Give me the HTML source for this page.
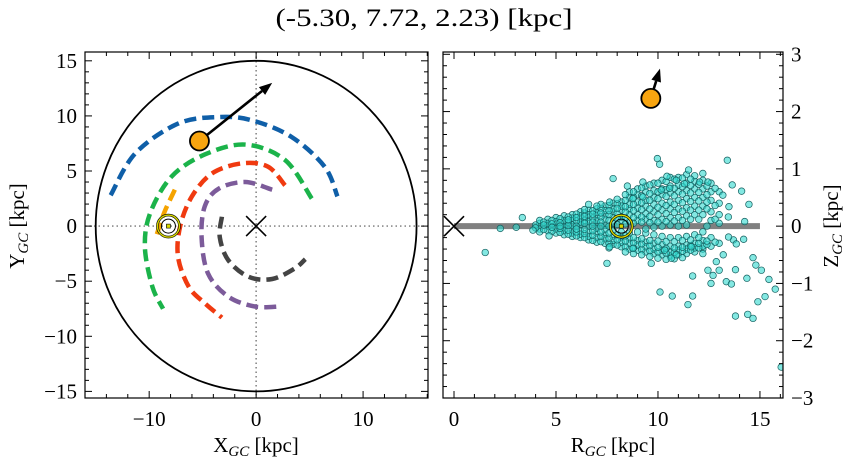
<!DOCTYPE html>
<html><head><meta charset="utf-8">
<style>
body{margin:0;background:#fff;}
svg{display:block;font-family:"Liberation Serif","DejaVu Serif",serif;}
</style></head>
<body>
<svg id="fig" width="854" height="464" viewBox="0 0 854 464" xmlns="http://www.w3.org/2000/svg">
<text x="424" y="26" font-size="25" text-anchor="middle" textLength="297" lengthAdjust="spacingAndGlyphs">(-5.30, 7.72, 2.23) [kpc]</text>
<g id="left"></g>
<g id="right"></g>
</svg>
<script>
// ---- data ----
const blueArc=[[-13.6,2.8],[-11.3,6.6],[-7.3,9.3],[-3.5,9.9],[-0.4,9.6],[3.3,8.1],[6.4,5.4],[7.6,2.7]];
const greenArc=[[5.2,2.5],[2.7,6.0],[-1.0,7.4],[-4.8,6.5],[-7.9,4.5],[-9.9,1.2],[-10.4,-1.9],[-9.7,-5.5],[-8.7,-7.5]];
const redArc=[[2.7,3.7],[1.1,5.4],[-1.3,5.7],[-4.1,4.8],[-6.0,2.7],[-7.1,0],[-7.3,-2.8],[-6.3,-5.5],[-4.8,-7.0],[-3.2,-8.3]];
const purpleArc=[[1.5,3.3],[-1.0,4.0],[-3.5,3.4],[-4.8,1.8],[-5.1,-1.0],[-4.5,-4.3],[-2.6,-6.4],[-0.1,-7.3],[2.2,-7.3]];
const greyArc=[[-3.2,0.85],[-3.4,-1.0],[-2.6,-3.1],[-0.7,-4.6],[1.5,-4.8],[3.6,-3.85],[4.6,-3.0]];
const orangeArc=[[-7.6,3.3],[-8.6,1.2],[-9.4,-1.1]];
const starXY=[-5.30,7.72];
const arrowXY=[1.5,13.0];
const sunXY=[-8.2,0];
const starRZ=[9.65,2.23];
const arrowRZ=[10.1,2.75];
const xTicksL=[-10,0,10], yTicksL=[-15,-10,-5,0,5,10,15];
const xTicksR=[0,5,10,15], yTicksR=[-3,-2,-1,0,1,2,3];
const outliers=[[1.53,-0.46],[2.27,-0.04],[3.05,-0.02],[3.35,0.15],[3.87,-0.07],[4.66,-0.17],[7.5,-0.65],[7.8,0.83],[8.5,0.7],[9.26,0.77],[9.67,-0.65],[9.97,1.18],[10.08,1.08],[10.1,-1.15],[10.7,-1.22],[11.47,-1.37],[11.7,-1.22],[11.7,-0.87],[11.5,0.98],[12.2,0.92],[13.4,1.15],[13.64,0.72],[14.1,0.61],[14.46,0.38],[14.25,0.08],[14.2,-0.23],[14.66,-0.55],[14.8,-0.68],[15.07,-0.77],[15.44,-0.93],[15.75,-1.1],[15.25,-1.23],[14.9,-1.32],[14.66,-1.61],[14.4,-1.54],[13.8,-1.57],[13.8,-0.76],[13.35,-0.97],[13.6,-1.01],[12.6,-1.0],[12.45,-0.77],[12.7,-0.86],[13.0,-0.77],[12.86,-0.62],[14.36,-0.91],[16.04,-2.46],[13.7,-0.24],[13.84,-0.31],[13.46,-0.19],[13.2,-0.5],[12.2,-0.48],[10.9,-0.5],[10.65,-0.56],[10.33,-0.42],[11.63,-0.36],[8.77,-0.39],[7.63,-0.36],[6.6,0.38],[7.0,0.35],[7.63,0.42],[8.77,0.48],[9.26,0.51],[10.16,0.63],[10.44,0.87],[10.9,0.8],[11.3,0.74],[12.04,0.77],[12.45,0.77],[10.57,0.66],[13.18,0.54],[13.48,0.34],[13.45,0.16]];
const coreR=[4.2,4.6,5.0,5.4,5.8,6.2,6.6,7.0,7.4,7.8,8.2,8.6,9.0,9.4,9.8,10.2,10.6,11.0,11.4,11.8,12.2,12.6,13.0];
const coreZ=[
[0.05,-0.05,0.1,-0.1],
[0.12,0,-0.08,0.05],
[0.15,-0.12,0.02,0.08,-0.05],
[0.18,-0.15,0.05,-0.02,0.1,-0.08],
[0.2,-0.18,0.1,-0.05,0.02,0.14,-0.12],
[0.25,-0.2,0.12,-0.08,0.03,0.18,-0.14,0.07],
[0.28,-0.24,0.15,-0.1,0,0.2,-0.18,0.08],
[0.3,-0.28,0.18,-0.12,0.04,0.24,-0.2,0.1,-0.04],
[0.35,-0.3,0.2,-0.15,0.02,0.27,-0.22,0.12,-0.06],
[0.4,-0.32,0.25,-0.18,0.05,0.3,-0.25,0.15,-0.08],
[0.42,-0.36,0.28,-0.2,0.1,0.35,-0.28,0.16,-0.1],
[0.5,-0.4,0.3,-0.22,0.08,0.38,-0.3,0.2,-0.12,0.6],
[0.55,-0.42,0.32,-0.25,0.1,0.42,-0.33,0.2,-0.1,0.65],
[0.6,-0.45,0.35,-0.28,0.12,0.45,-0.36,0.22,-0.12,0.7,-0.05],
[0.62,-0.48,0.38,-0.3,0.1,0.5,-0.4,0.25,-0.15,0.75,-0.02],
[0.65,-0.5,0.4,-0.32,0.12,0.55,-0.42,0.28,-0.18,0.8,0],
[0.7,-0.52,0.42,-0.35,0.15,0.58,-0.45,0.3,-0.2,0.85,0.02],
[0.72,-0.5,0.45,-0.35,0.15,0.6,-0.42,0.3,-0.2,0.85,0],
[0.75,-0.48,0.48,-0.33,0.18,0.62,-0.4,0.32,-0.18,0.9,0.02],
[0.78,-0.45,0.5,-0.3,0.2,0.65,-0.38,0.35,-0.15,0.88],
[0.8,-0.4,0.5,-0.25,0.2,0.65,-0.35,0.35,-0.1],
[0.75,-0.35,0.45,-0.2,0.25,0.6,0.1],
[0.6,-0.3,0.4,0.2,0.05]];
const core2R=[4.0,4.4,4.8,5.2,5.6,6.0,6.4,6.8,7.2,7.6,8.0,8.4,8.8,9.2,9.6,10.0,10.4,10.8,11.2,11.6,12.0,12.4,12.8];
const core2Z=[
[0.02,-0.03],
[0.07,-0.06,0.02],
[0.1,-0.09,0.04,-0.02],
[0.13,-0.11,0.06,-0.04,0.0],
[0.16,-0.14,0.07,-0.07,0.01,0.11],
[0.21,-0.17,0.09,-0.1,0.0,0.15,-0.05],
[0.23,-0.2,0.1,-0.13,0.05,0.17,-0.06,0.29],
[0.27,-0.25,0.14,-0.16,0.07,0.21,-0.08,0.0],
[0.31,-0.27,0.16,-0.18,0.07,0.23,-0.1,0.0,0.38],
[0.36,-0.3,0.2,-0.21,0.1,0.27,-0.12,0.0,-0.38],
[0.39,-0.33,0.22,-0.24,0.13,0.31,-0.15,0.03,0.47],
[0.45,-0.36,0.25,-0.26,0.14,0.34,-0.17,0.04,0.55,-0.45],
[0.5,-0.38,0.27,-0.29,0.15,0.38,-0.2,0.05,0.6,-0.48],
[0.53,-0.41,0.29,-0.31,0.16,0.41,-0.22,0.07,0.67,-0.5],
[0.57,-0.43,0.3,-0.34,0.17,0.45,-0.25,0.06,0.72,-0.53],
[0.6,-0.45,0.33,-0.37,0.2,0.48,-0.26,0.07,0.75,-0.56],
[0.64,-0.47,0.36,-0.39,0.22,0.52,-0.27,0.08,0.78,-0.58],
[0.66,-0.46,0.38,-0.38,0.24,0.53,-0.27,0.09,0.82,-0.57],
[0.69,-0.44,0.41,-0.37,0.26,0.56,-0.25,0.1,0.84,-0.55],
[0.71,-0.42,0.43,-0.34,0.28,0.58,-0.24,0.12,0.82],
[0.73,-0.38,0.44,-0.3,0.28,0.59,-0.2,0.12],
[0.7,-0.32,0.42,-0.26,0.3,0.55,0.0],
[0.66,-0.28,0.36,0.12]];

// ---- axes ----
const NS="http://www.w3.org/2000/svg";
function mk(parent,tag,attrs){const e=document.createElementNS(NS,tag);for(const k in attrs)e.setAttribute(k,attrs[k]);parent.appendChild(e);return e;}
const L={x0:85,x1:428,y0:52,y1:398,xmin:-16,xmax:16.07,ymin:-15.6,ymax:15.8};
const R={x0:443,x1:783,y0:52,y1:398,xmin:-0.54,xmax:16.13,ymin:-3,ymax:3.04};
const sx=(A,v)=>A.x0+(v-A.xmin)/(A.xmax-A.xmin)*(A.x1-A.x0);
const sy=(A,v)=>A.y1-(v-A.ymin)/(A.ymax-A.ymin)*(A.y1-A.y0);
const gL=document.getElementById('left'), gR=document.getElementById('right');

function frame(g,A,xt,yt,xminor,yminor,yRight){
  for(let v=Math.ceil(A.xmin/xminor)*xminor; v<=A.xmax; v+=xminor){
    const x=sx(A,v);const major=xt.some(t=>Math.abs(t-v)<1e-6);const len=major?7:4;
    const t1=mk(g,'line',{x1:x,x2:x,y1:A.y1,y2:A.y1-len,stroke:'#000','stroke-width':1});
    
    
    mk(g,'line',{x1:x,x2:x,y1:A.y0,y2:A.y0+len,stroke:'#000','stroke-width':1});
  }
  for(let v=Math.ceil(A.ymin/yminor-1e-6)*yminor; v<=A.ymax+1e-6; v+=yminor){
    const y=sy(A,v);const major=yt.some(t=>Math.abs(t-v)<1e-6);const len=major?7:4;
    const t2=mk(g,'line',{x1:A.x0,x2:A.x0+len,y1:y,y2:y,stroke:'#000','stroke-width':1});
    
    
    mk(g,'line',{x1:A.x1,x2:A.x1-len,y1:y,y2:y,stroke:'#000','stroke-width':1});
  }
  xt.forEach(v=>{const t=mk(g,'text',{x:sx(A,v),y:A.y1+28,'font-size':21,'text-anchor':'middle'});t.textContent=(v<0?'\u2212'+(-v):v);
    
    });
  yt.forEach(v=>{const t=mk(g,'text',{x:yRight?A.x1+8:A.x0-8,y:sy(A,v)+7,'font-size':21,'text-anchor':yRight?'start':'end'});t.textContent=(v<0?'\u2212'+(-v):v);
    
    });
  const f=mk(g,'rect',{x:A.x0,y:A.y0,width:A.x1-A.x0,height:A.y1-A.y0,fill:'none',stroke:'#000','stroke-width':1.2});
  
  
}
function curve(g,A,pts,attrs,name){
  const P=pts.map(p=>[sx(A,p[0]),sy(A,p[1])]);
  let d='M'+P[0][0]+' '+P[0][1];
  for(let i=0;i<P.length-1;i++){const p0=P[i-1]||P[i],p1=P[i],p2=P[i+1],p3=P[i+2]||p2;
    d+=' C'+(p1[0]+(p2[0]-p0[0])/6)+' '+(p1[1]+(p2[1]-p0[1])/6)+' '+(p2[0]-(p3[0]-p1[0])/6)+' '+(p2[1]-(p3[1]-p1[1])/6)+' '+p2[0]+' '+p2[1];}
  const e=mk(g,'path',Object.assign({d:d,fill:'none'},attrs));
  
  
}
function cross(g,cx,cy,s,name){
  const e=mk(g,'path',{d:`M${cx-s} ${cy-s}L${cx+s} ${cy+s}M${cx-s} ${cy+s}L${cx+s} ${cy-s}`,stroke:'#000','stroke-width':1.6});
  
  
}
function sun(g,cx,cy,name){
  const s=mk(g,'g',{});
  
  
  mk(s,'circle',{cx:cx,cy:cy,r:11,fill:'none',stroke:'#000','stroke-width':2.6});
  mk(s,'circle',{cx:cx,cy:cy,r:11,fill:'none',stroke:'#d8d800','stroke-width':1.4});
  mk(s,'circle',{cx:cx,cy:cy,r:7,fill:'none',stroke:'#000','stroke-width':1});
  mk(s,'rect',{x:cx-2,y:cy-2,width:4,height:4,fill:'#d8d800',stroke:'#000','stroke-width':0.6});
}
function arrow(g,x1,y1,x2,y2,name){
  const a=Math.atan2(y2-y1,x2-x1),h=13,w=5;
  const bx=x2-h*Math.cos(a),by=y2-h*Math.sin(a);
  const e=mk(g,'g',{});
  
  
  mk(e,'line',{x1:x1,y1:y1,x2:bx,y2:by,stroke:'#000','stroke-width':2.6});
  mk(e,'path',{d:`M${x2} ${y2}L${bx-w*Math.sin(a)} ${by+w*Math.cos(a)}L${bx+w*Math.sin(a)} ${by-w*Math.cos(a)}Z`,fill:'#000'});
}

// ---- left panel ----
(function(){
  const A=L,g=gL;
  const dot1=mk(g,'line',{x1:sx(A,0),x2:sx(A,0),y1:A.y0,y2:A.y1,stroke:'#777','stroke-width':1.4,'stroke-dasharray':'1.5 3'});
  
  
  const dot2=mk(g,'line',{x1:A.x0,x2:A.x1,y1:sy(A,0),y2:sy(A,0),stroke:'#777','stroke-width':1.4,'stroke-dasharray':'1.5 3'});
  
  
  const rx=sx(A,15)-sx(A,0), ry=sy(A,0)-sy(A,15);
  const c=mk(g,'ellipse',{cx:sx(A,0),cy:sy(A,0),rx:rx,ry:ry,fill:'none',stroke:'#000','stroke-width':1.8});
  
  
  const da={'stroke-width':4.5,'stroke-dasharray':'12 6'};
  curve(g,A,blueArc,Object.assign({stroke:'#0f5fa8'},da),'spiral-arm-blue');
  curve(g,A,greenArc,Object.assign({stroke:'#1bb34a'},da),'spiral-arm-green');
  curve(g,A,redArc,Object.assign({stroke:'#f03a10'},da),'spiral-arm-red');
  curve(g,A,purpleArc,Object.assign({stroke:'#7c5b9a'},da),'spiral-arm-purple');
  curve(g,A,greyArc,Object.assign({stroke:'#444'},da),'spiral-arm-grey');
  curve(g,A,orangeArc,Object.assign({stroke:'#f5a300'},da),'spiral-arm-orange');
  cross(g,sx(A,0),sy(A,0),10,'galactic-center-marker');
  sun(g,sx(A,sunXY[0]),sy(A,sunXY[1]),'sun-marker');
  arrow(g,sx(A,starXY[0]),sy(A,starXY[1]),sx(A,arrowXY[0]),sy(A,arrowXY[1]),'velocity-arrow');
  const s=mk(g,'circle',{cx:sx(A,starXY[0]),cy:sy(A,starXY[1]),r:9.5,fill:'#f8a510',stroke:'#000','stroke-width':1.8});
  
  
  frame(g,A,xTicksL,yTicksL,2,1,false);
  const xl=mk(g,'text',{x:256,y:452,'font-size':21,'text-anchor':'middle'});
  xl.innerHTML='X<tspan font-size="15" font-style="italic" dy="4">GC</tspan><tspan dy="-4"> [kpc]</tspan>';
  
  
  const yl=mk(g,'text',{x:0,y:0,'font-size':21,'text-anchor':'middle',transform:'translate(24,226) rotate(-90)'});
  yl.innerHTML='Y<tspan font-size="15" font-style="italic" dy="4">GC</tspan><tspan dy="-4"> [kpc]</tspan>';
  
  
})();

// ---- right panel ----
(function(){
  const A=R,g=gR;
  const cp=mk(g,'clipPath',{id:'rclip'});mk(cp,'rect',{x:A.x0,y:A.y0,width:A.x1-A.x0,height:A.y1-A.y0});
  const body=mk(g,'g',{'clip-path':'url(#rclip)'});
  const disk=mk(body,'line',{x1:sx(A,0),x2:sx(A,15),y1:sy(A,0),y2:sy(A,0),stroke:'#808080','stroke-width':6});
  
  
  cross(body,sx(A,0),sy(A,0),10,'galactic-center-marker');
  const pts=[];
  coreR.forEach((r,i)=>coreZ[i].forEach(z=>pts.push([r,z])));
  core2R.forEach((r,i)=>core2Z[i].forEach(z=>pts.push([r,z])));
  outliers.forEach(p=>pts.push(p));
  pts.forEach(p=>{
    const c=mk(body,'circle',{cx:sx(A,p[0]),cy:sy(A,p[1]),r:3.3,fill:'#30d8cf','fill-opacity':0.6,stroke:'#155f5f','stroke-width':0.7});
    
    
  });
  sun(body,sx(A,8.2),sy(A,0),'sun-marker');
  arrow(body,sx(A,starRZ[0]),sy(A,starRZ[1]),sx(A,arrowRZ[0]),sy(A,arrowRZ[1]),'velocity-arrow');
  const s=mk(body,'circle',{cx:sx(A,starRZ[0]),cy:sy(A,starRZ[1]),r:9.5,fill:'#f8a510',stroke:'#000','stroke-width':1.8});
  
  
  frame(g,A,xTicksR,yTicksR,1,0.2,true);
  const xl=mk(g,'text',{x:613,y:452,'font-size':21,'text-anchor':'middle'});
  xl.innerHTML='R<tspan font-size="15" font-style="italic" dy="4">GC</tspan><tspan dy="-4"> [kpc]</tspan>';
  
  
  const yl=mk(g,'text',{x:0,y:0,'font-size':21,'text-anchor':'middle',transform:'translate(838,226) rotate(-90)'});
  yl.innerHTML='Z<tspan font-size="15" font-style="italic" dy="4">GC</tspan><tspan dy="-4"> [kpc]</tspan>';
  
  
})();
</script>
</body></html>
